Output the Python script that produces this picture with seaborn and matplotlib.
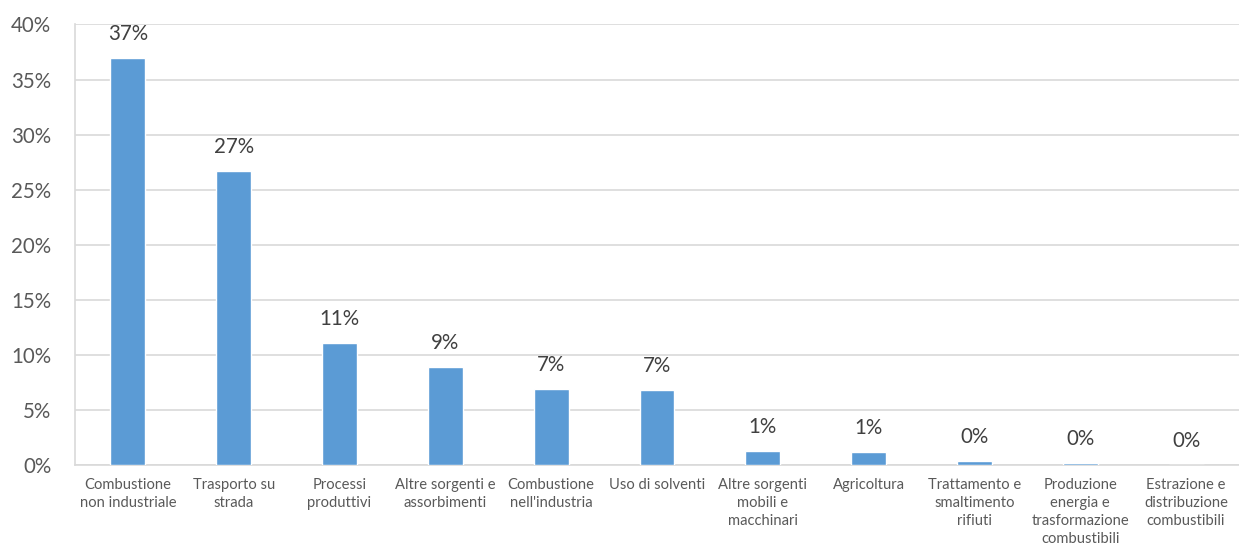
import matplotlib
matplotlib.use("Agg")
import matplotlib.pyplot as plt
import seaborn as sns
import pandas as pd
from matplotlib.ticker import PercentFormatter, MultipleLocator

categories = [
    "Combustione\nnon industriale",
    "Trasporto su\nstrada",
    "Processi\nproduttivi",
    "Altre sorgenti e\nassorbimenti",
    "Combustione\nnell'industria",
    "Uso di solventi",
    "Altre sorgenti\nmobili e\nmacchinari",
    "Agricoltura",
    "Trattamento e\nsmaltimento\nrifiuti",
    "Produzione\nenergia e\ntrasformazione\ncombustibili",
    "Estrazione e\ndistribuzione\ncombustibili",
]
values = [0.370, 0.267, 0.111, 0.089, 0.069, 0.068, 0.013, 0.012, 0.0036, 0.0018, 0.0002]

df = pd.DataFrame({"cat": categories, "val": values})

sns.set_theme(style="white")
plt.rcParams['font.family'] = ['Lato', 'DejaVu Sans']

fig = plt.figure(figsize=(12.39, 5.50), dpi=100)
ax = fig.add_axes([0.0605, 0.1545, 0.9395, 0.801])

sns.barplot(data=df, x="cat", y="val", color="#5B9BD5", saturation=1,
            width=0.33, ax=ax, zorder=3)

ax.set_ylim(0, 0.40)
ax.set_xlim(-0.5, len(categories) - 0.5)
ax.yaxis.set_major_locator(MultipleLocator(0.05))
ax.yaxis.set_major_formatter(PercentFormatter(1.0, decimals=0))
ax.grid(axis="y", color="#D9D9D9", linewidth=1.2, zorder=0)
ax.set_axisbelow(True)
ax.set_xlabel("")
ax.set_ylabel("")

for side in ["top", "right"]:
    ax.spines[side].set_visible(False)
for side in ["left", "bottom"]:
    ax.spines[side].set_color("#D9D9D9")
    ax.spines[side].set_linewidth(1.2)

ax.tick_params(axis="y", length=0, pad=17, labelsize=14.8, labelcolor="#595959")
ax.tick_params(axis="x", length=0, pad=9, labelsize=10.6, labelcolor="#595959")
for lbl in ax.get_xticklabels():
    lbl.set_linespacing(1.38)

for i, v in enumerate(values):
    ax.annotate(f"{round(v*100):.0f}%", (i, v), xytext=(0, 10),
                textcoords="offset points", ha="center", va="bottom",
                fontsize=14.8, color="#404040")

fig.savefig("out.png", dpi=100)
